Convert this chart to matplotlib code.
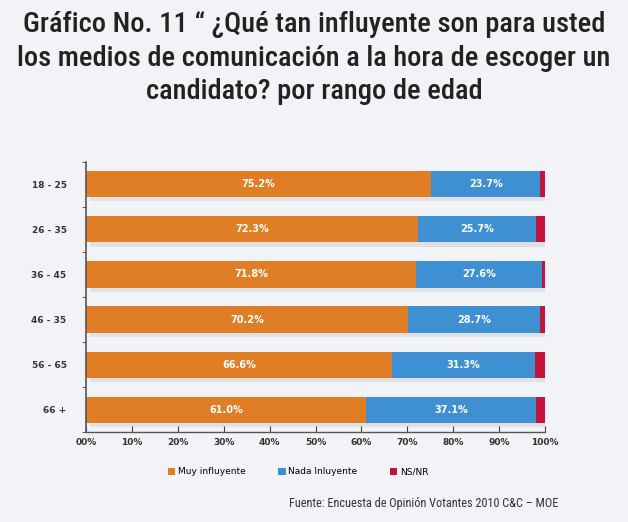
import matplotlib.pyplot as plt
from matplotlib import font_manager

# datos
rangos = ['18 - 25', '26 - 35', '36 - 45', '46 - 35', '56 - 65', '66 +']
muy_influyente = [75.2, 72.3, 71.8, 70.2, 66.6, 61.0]
nada_influyente = [23.7, 25.7, 27.6, 28.7, 31.3, 37.1]
ns_nr = [1.1, 2.0, 0.6, 1.1, 2.1, 1.9]
xticks_lbl = ['00%', '10%', '20%', '30%', '40%', '50%', '60%', '70%', '80%', '90%', '100%']

nombres = [f.name for f in font_manager.fontManager.ttflist]
titfont = 'Liberation Sans Narrow' if 'Liberation Sans Narrow' in nombres else 'Roboto Condensed'
if titfont not in nombres:
    titfont = 'DejaVu Sans'

bg = '#f1f3f6'
fig = plt.figure(figsize=(6.28, 5.22), dpi=100, facecolor=bg)
ax = fig.add_axes([0.137, 0.172, 0.731, 0.518], facecolor='none')

naranja = '#e07e26'
azul = '#3f90d3'
rojo = '#c3143b'

y = list(range(len(rangos)))
h = 0.58
# sombra
ax.barh([v + 0.09 for v in y], [100] * len(y), height=h, left=0.8, color='#d3d6db', alpha=0.6, zorder=1)
b1 = ax.barh(y, muy_influyente, height=h, color=naranja, label='Muy influyente', zorder=2)
izq = muy_influyente
b2 = ax.barh(y, nada_influyente, height=h, left=izq, color=azul, label='Nada Inluyente', zorder=2)
izq2 = [a + b for a, b in zip(muy_influyente, nada_influyente)]
b3 = ax.barh(y, ns_nr, height=h, left=izq2, color=rojo, label='NS/NR', zorder=2)

for i in y:
    ax.text(muy_influyente[i] / 2, i, '%.1f%%' % muy_influyente[i], ha='center', va='center',
            color='white', fontsize=7, fontweight='bold', zorder=3)
    ax.text(muy_influyente[i] + nada_influyente[i] / 2, i, '%.1f%%' % nada_influyente[i],
            ha='center', va='center', color='white', fontsize=7, fontweight='bold', zorder=3)

ax.set_xlim(0, 100)
ax.set_ylim(len(rangos) - 0.5, -0.5)
ax.set_xticks(range(0, 101, 10))
ax.set_xticklabels(xticks_lbl, fontsize=6.5, color='#333333', fontweight='bold')
ax.set_yticks(y)
ax.set_yticklabels(rangos, fontsize=6.5, color='#333333', fontweight='bold')
ax.set_yticks([v + 0.5 for v in range(-1, len(rangos))], minor=True)
ax.tick_params(axis='y', which='major', length=0, pad=14)
ax.tick_params(axis='y', which='minor', length=3, direction='out', color='#444444')
ax.tick_params(axis='x', length=4, direction='in', color='#444444', pad=4)
for s in ['top', 'right']:
    ax.spines[s].set_visible(False)
ax.spines['left'].set_color('#555555')
ax.spines['bottom'].set_color('#555555')
ax.spines['left'].set_linewidth(1.2)
ax.spines['bottom'].set_linewidth(1.0)

fig.text(0.5, 0.978, 'Gráfico No. 11 “ ¿Qué tan influyente son para usted\n'
         'los medios de comunicación a la hora de escoger un\n'
         'candidato? por rango de edad', ha='center', va='top', fontsize=20.5,
         fontweight='medium', family=titfont, color='#222222', linespacing=1.3)

fig.legend(handles=[b1, b2, b3], loc='center', bbox_to_anchor=(0.475, 0.096), ncol=3,
           frameon=False, fontsize=6.5, handlelength=0.8, handleheight=0.8,
           columnspacing=3.6, handletextpad=0.3)

fig.text(0.675, 0.036, 'Fuente: Encuesta de Opinión Votantes 2010 C&C – MOE', ha='center',
         va='center', fontsize=8.8, color='#333333', family=titfont)

fig.savefig('out.png', dpi=100, facecolor=bg)
